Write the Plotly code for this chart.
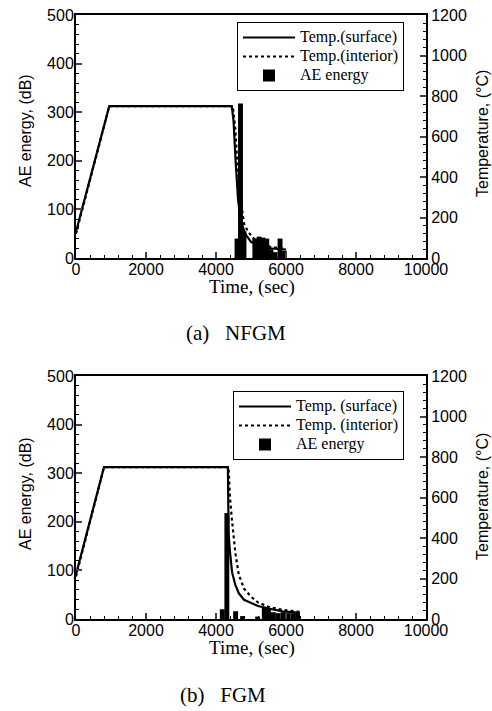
import plotly.graph_objects as go

# ---------- (a) NFGM ----------
time_surf_a = [0, 950, 4450, 4500, 4560, 4630, 4700, 4830, 5000, 5250, 5500, 5750, 6000]
temp_surf_a = [130, 750, 750, 680, 480, 290, 190, 120, 80, 55, 48, 44, 42]
time_int_a = [0, 950, 4480, 4550, 4620, 4700, 4800, 4900, 5050, 5300, 5550, 5800, 6000]
temp_int_a = [120, 750, 750, 640, 440, 300, 170, 135, 100, 70, 55, 48, 45]
time_ae_a = [4600, 4700, 4800, 5110, 5230, 5340, 5450, 5570, 5690, 5830, 5950]
ae_a = [40, 318, 55, 40, 44, 42, 40, 18, 12, 40, 15]

# ---------- (b) FGM ----------
time_surf_b = [0, 800, 4340, 4360, 4400, 4460, 4550, 4650, 4800, 5000, 5200, 5500, 5900, 6400]
temp_surf_b = [220, 750, 750, 420, 330, 230, 170, 128, 95, 78, 64, 52, 38, 30]
time_int_b = [0, 800, 4360, 4380, 4400, 4450, 4550, 4650, 4800, 5000, 5200, 5500, 5900, 6400]
temp_int_b = [210, 750, 750, 650, 600, 500, 330, 220, 150, 110, 82, 60, 45, 35]
time_ae_b = [4180, 4310, 4560, 4760, 5190, 5380, 5500, 5640, 5780, 5920, 6060, 6200, 6330]
ae_b = [20, 218, 16, 6, 5, 25, 22, 14, 12, 14, 12, 12, 12]

W, H = 492, 711
def px(x): return x / W
def py(y): return 1 - y / H

SERIF = "Liberation Serif"
SANS = "Liberation Sans"

fig = go.Figure()

def lg(s):
    return '<span style="font-size:16px">' + s + '</span>'

panels = [
    dict(ts=time_surf_a, vs=temp_surf_a, ti=time_int_a, vi=temp_int_a, ta=time_ae_a, va=ae_a,
         xa="x", ya="y", y2="y2", leg="legend",
         lbl=["Temp.(surface)", "Temp.(interior)", "AE energy"]),
    dict(ts=time_surf_b, vs=temp_surf_b, ti=time_int_b, vi=temp_int_b, ta=time_ae_b, va=ae_b,
         xa="x2", ya="y3", y2="y4", leg="legend2",
         lbl=["Temp. (surface)", "Temp. (interior)", "AE energy"]),
]

for p in panels:
    fig.add_trace(go.Bar(x=p["ta"], y=p["va"], width=140, marker=dict(color="black", line=dict(width=0)),
                         name=lg(p["lbl"][2]), xaxis=p["xa"], yaxis=p["ya"],
                         legend=p["leg"], legendrank=3))
    fig.add_trace(go.Scatter(x=p["ts"], y=p["vs"], mode="lines", line=dict(color="black", width=2.2),
                             name=lg(p["lbl"][0]), xaxis=p["xa"], yaxis=p["y2"], legend=p["leg"], legendrank=1))
    fig.add_trace(go.Scatter(x=p["ti"], y=p["vi"], mode="lines", line=dict(color="black", width=2.2, dash="dot"),
                             name=lg(p["lbl"][1]), xaxis=p["xa"], yaxis=p["y2"], legend=p["leg"], legendrank=2))

xdom = [px(76), px(426)]
tickfont = dict(family=SANS, size=16, color="black")

common = dict(ticks="inside", ticklen=6, tickwidth=1.5, showline=True, linewidth=2, linecolor="black",
              showgrid=False, zeroline=False, tickfont=tickfont, automargin=False,
              ticklabeloverflow="allow")

def xax(anchor):
    return dict(domain=xdom, anchor=anchor, range=[0, 10000], dtick=2000, tickformat="d", mirror=True,
                ticklabelstandoff=-4,
                minor=dict(dtick=400, ticks="inside", ticklen=3, tickwidth=1.2, tickcolor="black"), **common)

def yleft(anchor, dom):
    return dict(domain=dom, anchor=anchor, range=[0, 500], dtick=100, ticklabelstandoff=-3,
                minor=dict(dtick=20, ticks="inside", ticklen=3, tickwidth=1.2, tickcolor="black"), **common)

def yright(anchor, over):
    return dict(anchor=anchor, overlaying=over, side="right", range=[0, 1200], dtick=200,
                minor=dict(dtick=40, ticks="inside", ticklen=3, tickwidth=1.2, tickcolor="black"), **common)

dom_a = [py(258), py(15)]
dom_b = [py(619), py(376)]

legstyle = dict(bordercolor="black", borderwidth=1, bgcolor="white", xanchor="left", yanchor="top",
                font=dict(family=SERIF, size=11, color="black"), traceorder="normal",
                itemwidth=52, tracegroupgap=0)

fig.update_layout(
    width=W, height=H, margin=dict(l=0, r=0, t=0, b=0),
    plot_bgcolor="white", paper_bgcolor="white", barmode="overlay",
    xaxis=xax("y"), xaxis2=xax("y3"),
    yaxis=yleft("x", dom_a), yaxis2=yright("x", "y"),
    yaxis3=yleft("x2", dom_b), yaxis4=yright("x2", "y3"),
    legend=dict(x=px(237), y=py(22), **legstyle),
    legend2=dict(x=px(233), y=py(391), **legstyle),
)

ann = [
    ("AE energy, (dB)", 25, 131, SANS, 16, -90),
    ("Temperature, (°C)", 482, 134, SANS, 16, -90),
    ("Time, (sec)", 252, 287, SERIF, 19, 0),
    ("(a)   NFGM", 236, 333, SERIF, 21, 0),
    ("AE energy, (dB)", 25, 494, SANS, 16, -90),
    ("Temperature, (°C)", 482, 497, SANS, 16, -90),
    ("Time, (sec)", 252, 648, SERIF, 19, 0),
    ("(b)   FGM", 223, 695, SERIF, 21, 0),
]
for t, x, y, f, s, a in ann:
    fig.add_annotation(text=t, x=px(x), y=py(y), xref="paper", yref="paper", showarrow=False,
                       font=dict(family=f, size=s, color="black"), textangle=a,
                       xanchor="center", yanchor="middle")

fig.write_html("out.html", config={"displayModeBar": False},
               post_script="document.body.style.margin='0';document.body.style.overflow='hidden';")
